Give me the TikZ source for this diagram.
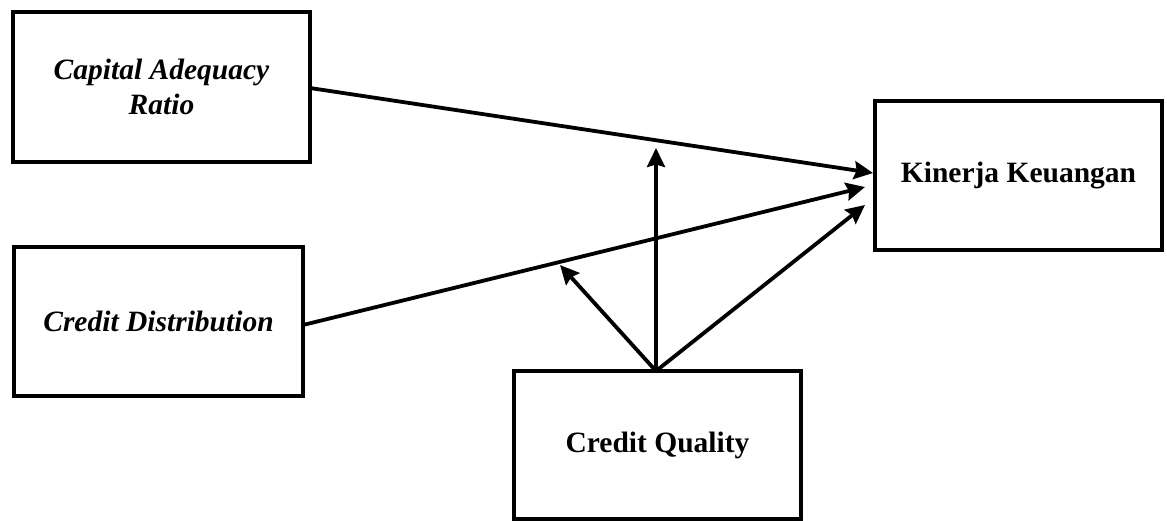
\documentclass[tikz,border=0pt]{standalone}
\usepackage{fontspec}
\setmainfont{Liberation Serif}
\usetikzlibrary{arrows.meta,calc}
\begin{document}
\begin{tikzpicture}[x=1pt,y=-1pt,
  box/.style={draw,line width=4pt,minimum width=#1,inner sep=0pt,align=center,
    font=\fontsize{29.5}{35}\selectfont},
  arr/.style={line width=3.8pt,-{Stealth[length=19pt,width=18pt,inset=2.5pt]}}]
\useasboundingbox (0,0) rectangle (1167,520);
\node[box=297pt,minimum height=150pt] (car) at (161.5,87) {\textit{\textbf{Capital Adequacy}}\\\textit{\textbf{Ratio}}};
\node[box=289pt,minimum height=149pt] (cd) at (158.5,321.5) {\textit{\textbf{Credit Distribution}}};
\node[box=287pt,minimum height=149pt] (kk) at (1018.5,175.5) {\textbf{Kinerja Keuangan}};
\node[box=287pt,minimum height=148pt] (cq) at (657.5,445) {\textbf{Credit Quality}};
\coordinate (t1) at (873,173);
\coordinate (t2) at (865,187);
\coordinate (t3) at (865,205);
\coordinate (tv) at (656,148);
\coordinate (td) at (560,265);
\coordinate (carout) at (310,88);
\coordinate (cdout) at (303,325);
\coordinate (cqtop) at (656,371);
\draw[arr] (carout) -- (t1);
\draw[arr] (cdout) -- (t2);
\draw[arr] (cqtop) -- (t3);
\draw[arr] (cqtop) -- (tv);
\draw[arr] (cqtop) -- (td);
\end{tikzpicture}
\end{document}
